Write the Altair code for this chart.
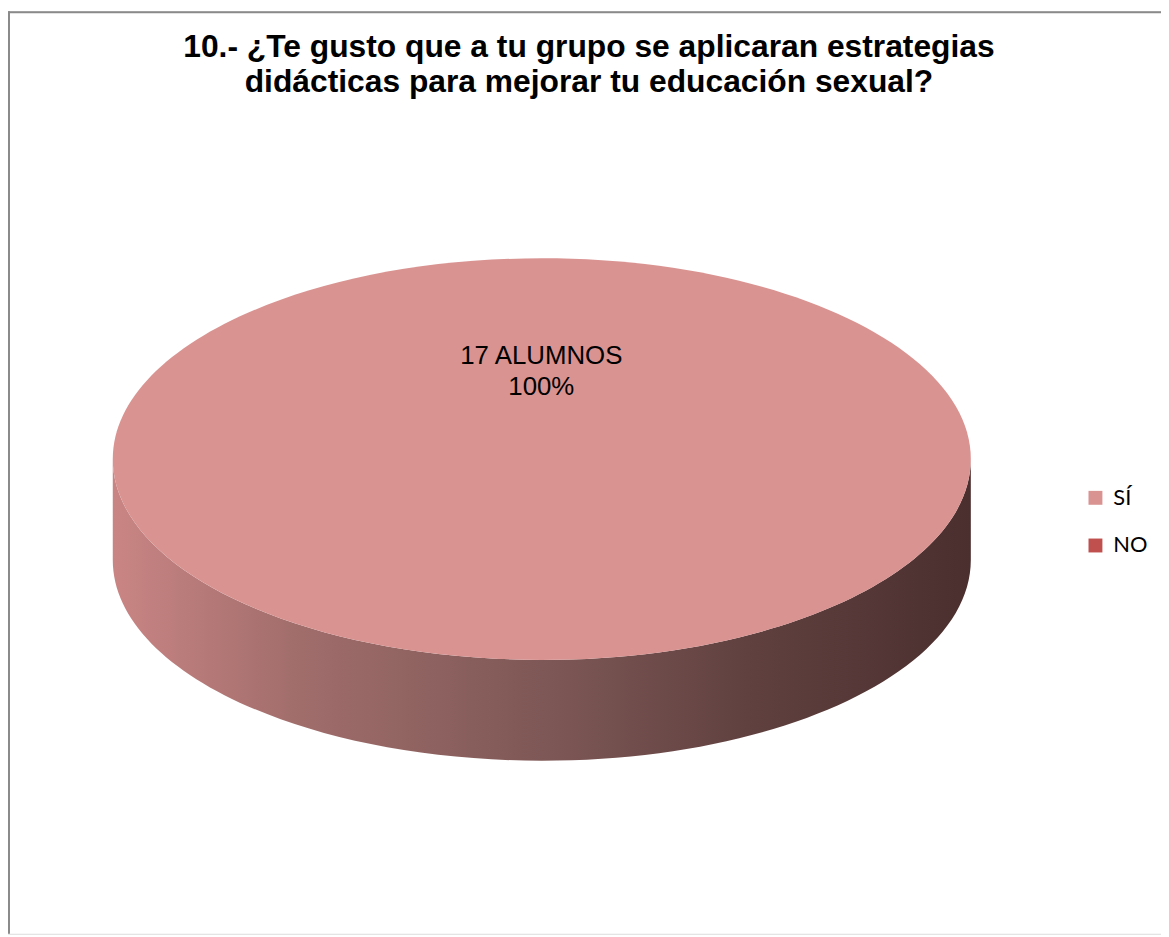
import altair as alt
import pandas as pd

# ---- data ----
CATEGORIES = ["SÍ", "NO"]
ALUMNOS = [17, 0]
COLORS = ["#D99391", "#C0504D"]
TITLE_LINES = [
    "10.- ¿Te gusto que a tu grupo se aplicaran estrategias",
    "didácticas para mejorar tu educación sexual?",
]

df = pd.DataFrame({"cat": CATEGORIES, "n": ALUMNOS, "order": list(range(len(CATEGORIES)))})

W, H = 1161, 929
CX, CY = 537.5, 451          # pie centre (chart coords)
RX = 432                     # horizontal radius in px
K = 0.468                    # ry / rx (tilt)
D = 0.235                    # depth / rx
SIZE = (2 * RX) ** 2         # symbol size so that unit path -> RX px

base = (
    alt.Chart(df)
    .transform_joinaggregate(total="sum(n)")
    .transform_calculate(frac="datum.n / datum.total")
    .transform_window(cum="sum(frac)", sort=[alt.SortField("order")], frame=[None, 0])
    .transform_calculate(start="datum.cum - datum.frac")
    .transform_filter("datum.n > 0")
)

k = str(K)
d = str(D)
top_path_expr = (
    "datum.frac >= 0.9999 ? "
    f"'M -1 0 A 1 {k} 0 1 1 1 0 A 1 {k} 0 1 1 -1 0 Z' : "
    "'M 0 0 L ' + sin(2*PI*datum.start) + ' ' + (-" + k + "*cos(2*PI*datum.start)) + "
    f"' A 1 {k} 0 ' + (datum.frac > 0.5 ? 1 : 0) + ' 1 ' + "
    "sin(2*PI*datum.cum) + ' ' + (-" + k + "*cos(2*PI*datum.cum)) + ' Z'"
)
side_path = (
    f"M -1 0 A 1 {k} 0 0 0 1 0 L 1 {d} A 1 {k} 0 0 1 -1 {d} Z"
)

side = base.mark_point(
    filled=True,
    shape=side_path,
    strokeWidth=0,
    opacity=1,
    fill=alt.Gradient(
        gradient="linear",
        x1=0, y1=0, x2=1, y2=0,
        stops=[
            alt.GradientStop(color="#C98584", offset=0),
            alt.GradientStop(color="#A06D6B", offset=0.22),
            alt.GradientStop(color="#7E5856", offset=0.5),
            alt.GradientStop(color="#5F403F", offset=0.75),
            alt.GradientStop(color="#4A2F2E", offset=1),
        ],
    ),
).encode(
    x=alt.value(CX),
    y=alt.value(CY),
    size=alt.value(SIZE),
)

top = base.transform_calculate(path=top_path_expr).mark_point(
    filled=True, strokeWidth=0, opacity=1
).encode(
    x=alt.value(CX),
    y=alt.value(CY),
    size=alt.value(SIZE),
    shape=alt.Shape("path:N", scale=None, legend=None),
    color=alt.Color(
        "cat:N",
        scale=alt.Scale(domain=CATEGORIES, range=COLORS),
        legend=alt.Legend(
            title=None,
            orient="none",
            legendX=1084,
            legendY=479,
            symbolType="square",
            symbolSize=196,
            symbolStrokeWidth=0,
            labelFont="Lato",
            labelFontSize=22,
            labelColor="#000000",
            labelOffset=7,
            rowPadding=26,
            padding=0,
        ),
    ),
)

label = base.transform_calculate(
    txt="[datum.n + ' ALUMNOS', format(datum.frac, '.0%')]"
).mark_text(
    font="Liberation Sans",
    fontSize=26,
    color="#000000",
    align="center",
    baseline="alphabetic",
    lineHeight=31,
).encode(
    x=alt.value(537),
    y=alt.value(355),
    text="txt:N",
)

title = alt.Chart(df).transform_filter("datum.order == 0").mark_text(
    text=TITLE_LINES,
    font="Liberation Sans",
    fontSize=32,
    fontWeight="bold",
    color="#000000",
    align="center",
    baseline="alphabetic",
    lineHeight=35,
).encode(x=alt.value(585), y=alt.value(46))

border_top = alt.Chart(df).transform_filter("datum.order == 0").mark_rule(
    color="#8A8A8A", strokeWidth=2
).encode(x=alt.value(0), x2=alt.value(W), y=alt.value(1))
border_left = alt.Chart(df).transform_filter("datum.order == 0").mark_rule(
    color="#8A8A8A", strokeWidth=2
).encode(x=alt.value(1), y=alt.value(0), y2=alt.value(H))

chart = (
    alt.layer(border_top, border_left, side, top, label, title)
    .properties(width=W, height=H, autosize=alt.AutoSizeParams(type="none"), padding=0)
    .configure_view(stroke=None)
    .configure(background="#FFFFFF")
)

chart.save("out.html", embed_options={"renderer": "svg", "actions": False})
